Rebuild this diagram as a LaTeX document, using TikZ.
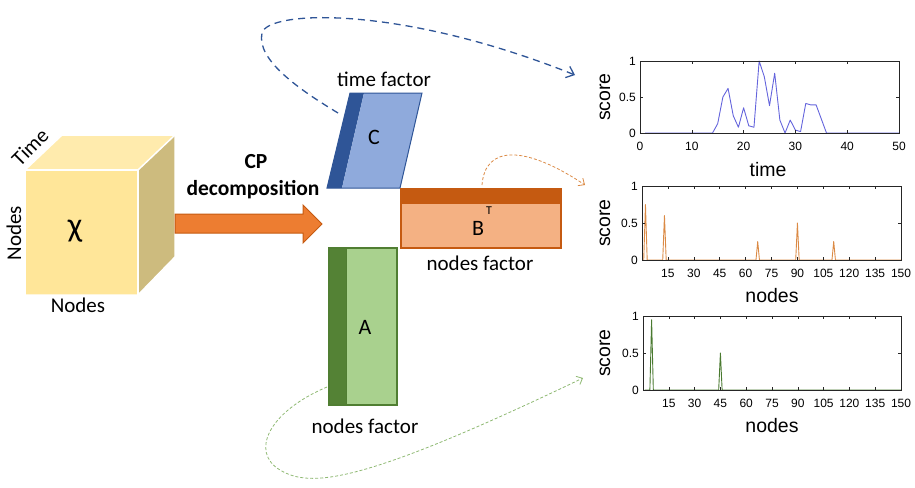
\documentclass[tikz,border=0pt]{standalone}
\usepackage{fontspec}
\setmainfont{Carlito}
\newfontfamily\plotfont{Liberation Sans}
\usetikzlibrary{arrows.meta}
\definecolor{cubefront}{HTML}{FFE699}
\definecolor{cubetop}{HTML}{FFEBAD}
\definecolor{cubeside}{HTML}{CDBB7E}
\definecolor{arrowfill}{HTML}{ED7D31}
\definecolor{arrowline}{HTML}{C55A11}
\definecolor{cdark}{HTML}{2F5597}
\definecolor{clight}{HTML}{8FAADC}
\definecolor{bdark}{HTML}{C55A11}
\definecolor{blight}{HTML}{F4B183}
\definecolor{adark}{HTML}{548235}
\definecolor{alight}{HTML}{A9D18E}
\definecolor{aline}{HTML}{507E32}
\definecolor{plotblue}{HTML}{6464DC}
\definecolor{plotorange}{HTML}{DB8A45}
\definecolor{plotgreen}{HTML}{4A7A30}
\definecolor{axgray}{HTML}{262626}
\tikzset{
  face/.style={draw=white, line width=1.5pt, line join=round},
  lab/.style={font=\fontsize{21}{24}\selectfont, inner sep=0pt},
  letter/.style={font=\fontsize{22}{25}\selectfont, inner sep=0pt},
  axbox/.style={draw=axgray, line width=0.7pt},
  tickm/.style={draw=axgray, line width=0.6pt},
  ticklab/.style={font=\plotfont\fontsize{12}{14}\selectfont, inner sep=0pt, text=black},
  axlab/.style={font=\plotfont\fontsize{19.5}{22}\selectfont, inner sep=0pt},
  bigdash/.style={draw=cdark, line width=1.3pt, dash pattern=on 7pt off 5pt, -{Straight Barb[length=7pt,width=12pt]}},
  smalldash/.style={line width=0.8pt, dash pattern=on 3pt off 2pt, -{Straight Barb[length=5pt,width=9pt]}},
}
\begin{document}
\begin{tikzpicture}[x=1pt,y=-1pt]
\useasboundingbox (0,0) rectangle (915,487);

% ---------- cube ----------
\fill[cubefront] (25,170) rectangle (138,295);
\fill[cubetop] (25,170) -- (62,135) -- (175,135) -- (138,170) -- cycle;
\fill[cubeside] (138,170) -- (175,135) -- (175,257) -- (138,295) -- cycle;
\draw[face] (25,170) -- (62,135) -- (175,135) -- (175,257) -- (138,295) -- (25,295) -- cycle;
\draw[face] (25,170) -- (138,170) -- (138,295);
\draw[face] (138,170) -- (175,135);
\node[font=\fontsize{34}{36}\selectfont, inner sep=0pt] (chi) at (75,231) {χ};
\node[lab, rotate=45] (timelab) at (30,147) {Time};
\node[lab, rotate=90] (nodesleft) at (14,233) {Nodes};
\node[lab] (nodesbottom) at (78,305) {Nodes};

% ---------- big arrow ----------
\draw[fill=arrowfill, draw=arrowline, line width=1pt, line join=miter]
  (175,214) -- (303,214) -- (303,205) -- (322,224) -- (303,243) -- (303,233) -- (175,233) -- cycle;
\node[lab, font=\bfseries\fontsize{21.5}{24}\selectfont] (cp) at (256,162) {CP};
\node[lab, font=\bfseries\fontsize{21.5}{24}\selectfont] (decomp) at (253,190) {decomposition};

% ---------- factor C ----------
\fill[cdark] (350,93) -- (364,93) -- (342,188) -- (327,188) -- cycle;
\fill[clight] (364,93) -- (422,93) -- (400,188) -- (342,188) -- cycle;
\draw[cdark, line width=1pt] (350,93) -- (422,93) -- (400,188) -- (327,188) -- cycle;
\node[letter] (C) at (374,137) {C};
\node[lab] (timefactor) at (384,79) {time factor};

% ---------- factor B ----------
\fill[bdark] (401,189) rectangle (561,204);
\fill[blight] (401,204) rectangle (561,248);
\draw[bdark, line width=1.2pt] (401,189) rectangle (561,248);
\node[letter] (B) at (478,228) {B};
\node[font=\fontsize{12}{13}\selectfont, inner sep=0pt] (T) at (489,211) {T};
\node[lab] (nodesfactorB) at (480,263) {nodes factor};

% ---------- factor A ----------
\fill[adark] (329,248) rectangle (346,405);
\fill[alight] (346,248) rectangle (397,405);
\draw[aline, line width=1.2pt] (329,248) rectangle (397,405);
\draw[aline, line width=0.8pt] (346,248) -- (346,405);
\node[letter] (A) at (365,327) {A};
\node[lab] (nodesfactorA) at (365,426) {nodes factor};

% ---------- plot 1 (time) ----------
\begin{scope}[shift={(640,133)}, x=5.18pt, y=72pt]
  \draw[plotblue, line width=0.9pt, line join=round]
    (1,0) -- (14,0) -- (15,0.13) -- (16,0.5) -- (17,0.62) -- (18,0.24) -- (19,0.08)
    -- (20,0.35) -- (21,0.1) -- (22,0.08) -- (23,1) -- (24,0.78) -- (25,0.38)
    -- (26,0.83) -- (27,0.18) -- (28,0) -- (29,0.18) -- (30,0.04) -- (31,0.02)
    -- (32,0.41) -- (33,0.39) -- (34,0.39) -- (36,0) -- (50,0);
  \draw[axbox] (0,0) rectangle (50,1);
  \foreach \t in {10,20,30,40} {
    \draw[tickm] (\t,0) -- ++(0pt,3pt);
    \draw[tickm] (\t,1) -- ++(0pt,-3pt);
  }
  \draw[tickm] (0,0.5) -- ++(3pt,0pt);
  \draw[tickm] (50,0.5) -- ++(-3pt,0pt);
  \foreach \t in {0,10,20,30,40,50} {
    \node[ticklab, anchor=north] (xa\t) at ([yshift=-9pt]\t,0) {\t};
  }
  \node[ticklab, anchor=east] (ya0) at ([xshift=-4pt]0,0) {0};
  \node[ticklab, anchor=east] (ya5) at ([xshift=-4pt]0,0.5) {0.5};
  \node[ticklab, anchor=east] (ya1) at ([xshift=-4pt]0,1) {1};
\end{scope}
\node[axlab, rotate=90] (scoreA) at (605,97) {score};
\node[axlab] (timeaxis) at (768,170) {time};

% ---------- plot 2 (nodes, orange) ----------
\begin{scope}[shift={(642,260)}, x=1.727pt, y=74pt]
  \draw[plotorange, line width=0.9pt, line join=round]
    (1,0) -- (2,0.75) -- (3,0) -- (12,0) -- (13,0.6) -- (14,0) -- (66,0) -- (67,0.25)
    -- (68,0) -- (89,0) -- (90,0.5) -- (91,0) -- (110,0) -- (111,0.25) -- (112,0) -- (150,0);
  \draw[axbox] (0,0) rectangle (150,1);
  \foreach \t in {15,30,...,135} {
    \draw[tickm] (\t,0) -- ++(0pt,3pt);
    \draw[tickm] (\t,1) -- ++(0pt,-3pt);
  }
  \draw[tickm] (0,0.5) -- ++(3pt,0pt);
  \draw[tickm] (150,0.5) -- ++(-3pt,0pt);
  \foreach \t in {15,30,...,150} {
    \node[ticklab, anchor=north] (xb\t) at ([yshift=-9pt]\t,0) {\t};
  }
  \node[ticklab, anchor=east] (yb0) at ([xshift=-4pt]0,0) {0};
  \node[ticklab, anchor=east] (yb5) at ([xshift=-4pt]0,0.5) {0.5};
  \node[ticklab, anchor=east] (yb1) at ([xshift=-4pt]0,1) {1};
\end{scope}
\node[axlab, rotate=90] (scoreB) at (605,223) {score};
\node[axlab] (nodesaxisB) at (772,296) {nodes};

% ---------- plot 3 (nodes, green) ----------
\begin{scope}[shift={(643,390)}, x=1.72pt, y=74pt]
  \draw[plotgreen, line width=0.9pt, line join=round]
    (1,0) -- (4,0) -- (5,0.95) -- (6,0) -- (44,0) -- (45,0.5) -- (46,0) -- (150,0);
  \draw[axbox] (0,0) rectangle (150,1);
  \foreach \t in {15,30,...,135} {
    \draw[tickm] (\t,0) -- ++(0pt,3pt);
    \draw[tickm] (\t,1) -- ++(0pt,-3pt);
  }
  \draw[tickm] (0,0.5) -- ++(3pt,0pt);
  \draw[tickm] (150,0.5) -- ++(-3pt,0pt);
  \foreach \t in {15,30,...,150} {
    \node[ticklab, anchor=north] (xc\t) at ([yshift=-9pt]\t,0) {\t};
  }
  \node[ticklab, anchor=east] (yc0) at ([xshift=-4pt]0,0) {0};
  \node[ticklab, anchor=east] (yc5) at ([xshift=-4pt]0,0.5) {0.5};
  \node[ticklab, anchor=east] (yc1) at ([xshift=-4pt]0,1) {1};
\end{scope}
\node[axlab, rotate=90] (scoreC) at (605,353) {score};
\node[axlab] (nodesaxisC) at (772,426) {nodes};

% ---------- dashed connectors ----------
\coordinate (cstart) at (338,113);
\coordinate (cend) at (575,75);
\coordinate (bstart) at (482,185);
\coordinate (bend) at (585,185);
\coordinate (astart) at (327,387);
\coordinate (aend) at (583,378);
\draw[bigdash] (cstart) .. controls (300,90) and (256,60) .. (262,33)
  .. controls (268,10) and (400,5) .. (cend);
\draw[smalldash, draw=plotorange] (bstart) .. controls (485,145) and (525,145) .. (bend);
\draw[smalldash, draw=alight!70!adark] (astart) .. controls (268,412) and (250,452) .. (280,470)
  .. controls (310,488) and (360,485) .. (aend);
\end{tikzpicture}
\end{document}
